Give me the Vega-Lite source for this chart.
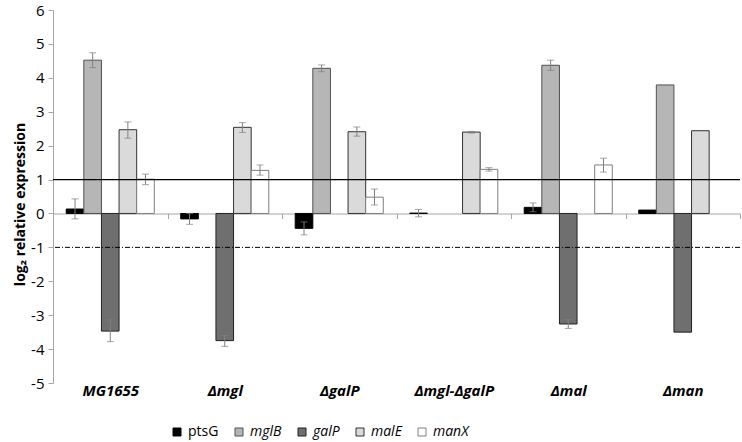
{
  "$schema": "https://vega.github.io/schema/vega-lite/v6.json",
  "width": 687,
  "height": 373,
  "autosize": {"type": "none"},
  "padding": {"left": 53, "top": 10, "right": 2, "bottom": 59},
  "background": "white",
  "config": {
    "font": "Open Sans",
    "view": {"stroke": null},
    "axisX": {
      "orient": "bottom",
      "offset": -169.5,
      "tickBand": "extent",
      "tickSize": 5,
      "tickColor": "#a6a6a6",
      "domainColor": "#a6a6a6",
      "labelAngle": 0,
      "labelFont": "Open Sans",
      "labelFontSize": 15,
      "labelFontWeight": "bold",
      "labelFontStyle": "italic",
      "labelColor": "black",
      "labelPadding": 164.5,
      "grid": false
    },
    "axisY": {
      "tickSize": 5,
      "tickColor": "#a6a6a6",
      "domainColor": "#a6a6a6",
      "labelFont": "Open Sans",
      "labelFontSize": 15,
      "labelColor": "black",
      "labelPadding": 4,
      "labelOverlap": false,
      "grid": false,
      "titleFont": "Open Sans",
      "titleFontSize": 14,
      "titleFontWeight": "bold",
      "titleColor": "black",
      "titlePadding": 3,
      "titleY": 194
    },
    "legend": {
      "orient": "none",
      "legendX": 117,
      "legendY": 415,
      "direction": "horizontal",
      "columns": 5,
      "padding": 0,
      "symbolType": "square",
      "symbolSize": 64,
      "symbolStrokeWidth": 1,
      "labelFont": "Open Sans",
      "labelFontSize": 14,
      "labelColor": "black",
      "columnPadding": 13
    }
  },
  "data": {
    "values": [
      {"strain": "MG1655", "gene": "ptsG", "value": 0.13, "lo": -0.16, "hi": 0.43},
      {"strain": "MG1655", "gene": "mglB", "value": 4.52, "lo": 4.30, "hi": 4.74},
      {"strain": "MG1655", "gene": "galP", "value": -3.47, "lo": -3.78, "hi": -3.14},
      {"strain": "MG1655", "gene": "malE", "value": 2.47, "lo": 2.22, "hi": 2.70},
      {"strain": "MG1655", "gene": "manX", "value": 1.01, "lo": 0.85, "hi": 1.16},
      {"strain": "Δmgl", "gene": "ptsG", "value": -0.16, "lo": -0.32, "hi": 0.0},
      {"strain": "Δmgl", "gene": "galP", "value": -3.75, "lo": -3.92, "hi": -3.6},
      {"strain": "Δmgl", "gene": "malE", "value": 2.54, "lo": 2.39, "hi": 2.68},
      {"strain": "Δmgl", "gene": "manX", "value": 1.27, "lo": 1.13, "hi": 1.43},
      {"strain": "ΔgalP", "gene": "ptsG", "value": -0.44, "lo": -0.63, "hi": -0.25},
      {"strain": "ΔgalP", "gene": "mglB", "value": 4.28, "lo": 4.18, "hi": 4.38},
      {"strain": "ΔgalP", "gene": "malE", "value": 2.41, "lo": 2.28, "hi": 2.55},
      {"strain": "ΔgalP", "gene": "manX", "value": 0.48, "lo": 0.25, "hi": 0.72},
      {"strain": "Δmgl-ΔgalP", "gene": "ptsG", "value": 0.01, "lo": -0.1, "hi": 0.12},
      {"strain": "Δmgl-ΔgalP", "gene": "malE", "value": 2.40, "lo": 2.37, "hi": 2.42},
      {"strain": "Δmgl-ΔgalP", "gene": "manX", "value": 1.30, "lo": 1.25, "hi": 1.35},
      {"strain": "Δmal", "gene": "ptsG", "value": 0.18, "lo": 0.05, "hi": 0.31},
      {"strain": "Δmal", "gene": "mglB", "value": 4.37, "lo": 4.22, "hi": 4.52},
      {"strain": "Δmal", "gene": "galP", "value": -3.26, "lo": -3.39, "hi": -3.13},
      {"strain": "Δmal", "gene": "manX", "value": 1.43, "lo": 1.22, "hi": 1.63},
      {"strain": "Δman", "gene": "ptsG", "value": 0.10, "lo": null, "hi": null},
      {"strain": "Δman", "gene": "mglB", "value": 3.79, "lo": null, "hi": null},
      {"strain": "Δman", "gene": "galP", "value": -3.50, "lo": null, "hi": null},
      {"strain": "Δman", "gene": "malE", "value": 2.44, "lo": null, "hi": null}
    ]
  },
  "layer": [
    {
      "mark": {"type": "bar", "strokeWidth": 1},
      "encoding": {
        "x": {"field": "strain", "type": "nominal", "title": null,
              "sort": ["MG1655", "Δmgl", "ΔgalP", "Δmgl-ΔgalP", "Δmal", "Δman"],
              "scale": {"domain": ["MG1655", "Δmgl", "ΔgalP", "Δmgl-ΔgalP", "Δmal", "Δman"], "paddingInner": 0, "paddingOuter": 0}},
        "xOffset": {"field": "gene", "type": "nominal",
              "scale": {"domain": ["ptsG", "mglB", "galP", "malE", "manX"], "paddingInner": 0, "paddingOuter": 0.75}},
        "y": {"field": "value", "type": "quantitative", "title": "log₂ relative expression",
              "scale": {"domain": [-5, 6], "nice": false},
              "axis": {"values": [-5, -4, -3, -2, -1, 0, 1, 2, 3, 4, 5, 6], "labelExpr": "'' + datum.value"}},
        "fill": {"field": "gene", "type": "nominal",
              "scale": {"domain": ["ptsG", "mglB", "galP", "malE", "manX"], "range": ["#000000", "#b6b6b6", "#6f6f6f", "#dadada", "#ffffff"]},
              "legend": {"title": null, "encode": {"labels": {"update": {"fontStyle": {"signal": "datum.label == 'ptsG' ? 'normal' : 'italic'"}}}}}},
        "stroke": {"field": "gene", "type": "nominal",
              "scale": {"domain": ["ptsG", "mglB", "galP", "malE", "manX"], "range": ["#000000", "#505050", "#222222", "#333333", "#7f7f7f"]},
              "legend": {"title": null, "encode": {"labels": {"update": {"fontStyle": {"signal": "datum.label == 'ptsG' ? 'normal' : 'italic'"}}}}}}
      }
    },
    {
      "transform": [{"filter": "isValid(datum.lo)"}],
      "mark": {"type": "rule", "color": "#808080", "strokeWidth": 1},
      "encoding": {
        "x": {"field": "strain", "type": "nominal", "title": null},
        "xOffset": {"field": "gene", "type": "nominal"},
        "y": {"field": "lo", "type": "quantitative", "title": "log₂ relative expression",
              "axis": {"values": [-5, -4, -3, -2, -1, 0, 1, 2, 3, 4, 5, 6], "labelExpr": "'' + datum.value"}},
        "y2": {"field": "hi"}
      }
    },
    {
      "transform": [{"filter": "isValid(datum.lo)"}],
      "mark": {"type": "tick", "orient": "horizontal", "size": 7, "thickness": 1, "color": "#808080"},
      "encoding": {
        "x": {"field": "strain", "type": "nominal", "title": null},
        "xOffset": {"field": "gene", "type": "nominal"},
        "y": {"field": "lo", "type": "quantitative", "title": "log₂ relative expression",
              "axis": {"values": [-5, -4, -3, -2, -1, 0, 1, 2, 3, 4, 5, 6], "labelExpr": "'' + datum.value"}}
      }
    },
    {
      "transform": [{"filter": "isValid(datum.hi)"}],
      "mark": {"type": "tick", "orient": "horizontal", "size": 7, "thickness": 1, "color": "#808080"},
      "encoding": {
        "x": {"field": "strain", "type": "nominal", "title": null},
        "xOffset": {"field": "gene", "type": "nominal"},
        "y": {"field": "hi", "type": "quantitative", "title": "log₂ relative expression",
              "axis": {"values": [-5, -4, -3, -2, -1, 0, 1, 2, 3, 4, 5, 6], "labelExpr": "'' + datum.value"}}
      }
    },
    {
      "data": {"values": [{"ref": 1}]},
      "mark": {"type": "rule", "color": "#000000", "strokeWidth": 1.2},
      "encoding": {"y": {"field": "ref", "type": "quantitative", "title": "log₂ relative expression",
              "axis": {"values": [-5, -4, -3, -2, -1, 0, 1, 2, 3, 4, 5, 6], "labelExpr": "'' + datum.value"}}}
    },
    {
      "data": {"values": [{"ref": -1}]},
      "mark": {"type": "rule", "color": "#000000", "strokeWidth": 1, "strokeDash": [5, 2, 1, 2]},
      "encoding": {"y": {"field": "ref", "type": "quantitative", "title": "log₂ relative expression",
              "axis": {"values": [-5, -4, -3, -2, -1, 0, 1, 2, 3, 4, 5, 6], "labelExpr": "'' + datum.value"}}}
    }
  ]
}
